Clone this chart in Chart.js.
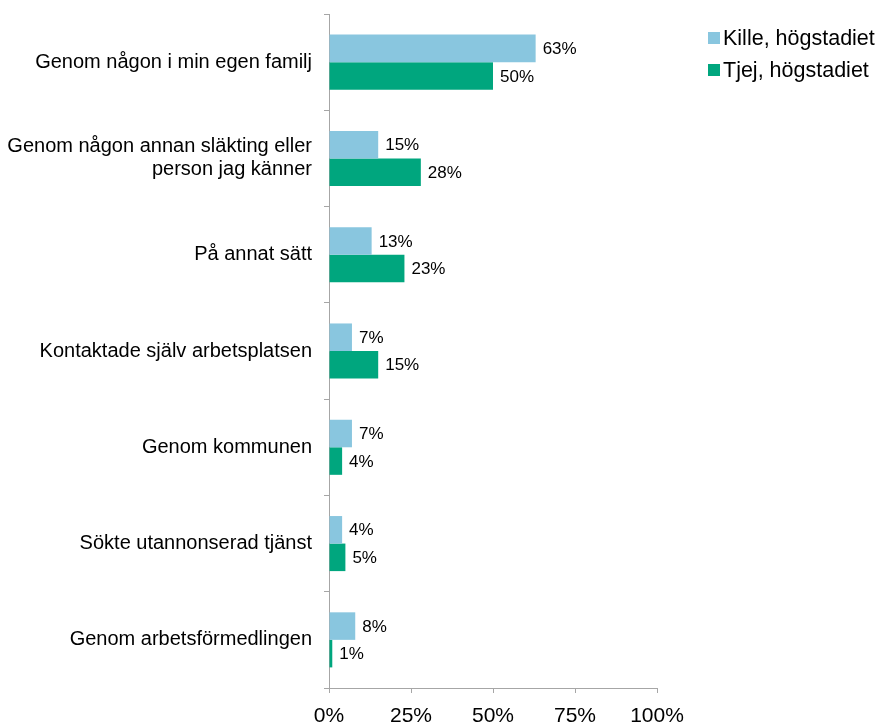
<!DOCTYPE html>
<html lang="sv">
  <head>
    <meta charset="UTF-8" />
    <title>Hur fick du jobbet?</title>
    <style>
      html, body { margin: 0; padding: 0; background: #fff; }
      #wrap { width: 883px; height: 724px; }
    </style>
  </head>
  <body>
    <div id="wrap">
      <canvas id="chart" width="883" height="724"></canvas>
    </div>
    <script src="https://cdn.jsdelivr.net/npm/chart.js"></script>
    <script>
      const categories = [
        "Genom någon i min egen familj",
        ["Genom någon annan släkting eller", "person jag känner"],
        "På annat sätt",
        "Kontaktade själv arbetsplatsen",
        "Genom kommunen",
        "Sökte utannonserad tjänst",
        "Genom arbetsförmedlingen",
      ];
      const kille = [63, 15, 13, 7, 7, 4, 8];
      const tjej = [50, 28, 23, 15, 4, 5, 1];
      const xTicks = [0, 25, 50, 75, 100];

      const FONT = "'Liberation Sans', Arial, sans-serif";
      const AXIS = "#a6a6a6";

      // value labels to the right of every bar
      const barLabels = {
        id: "barLabels",
        afterDatasetsDraw(chart) {
          const ctx = chart.ctx;
          ctx.save();
          ctx.font = "17px " + FONT;
          ctx.fillStyle = "#000";
          ctx.textAlign = "left";
          ctx.textBaseline = "middle";
          chart.data.datasets.forEach((ds, i) => {
            chart.getDatasetMeta(i).data.forEach((bar, j) => {
              ctx.fillText(ds.data[j] + "%", bar.x + 7, bar.y + 1);
            });
          });
          ctx.restore();
        },
      };

      // legend in the top right corner, square swatch close to the text
      const sideLegend = {
        id: "sideLegend",
        afterDraw(chart) {
          const ctx = chart.ctx;
          ctx.save();
          ctx.font = "21.5px " + FONT;
          ctx.textAlign = "left";
          ctx.textBaseline = "middle";
          chart.data.datasets.forEach((ds, i) => {
            const y = 38 + i * 32;
            ctx.fillStyle = ds.backgroundColor;
            ctx.fillRect(708, y - 6, 12, 12);
            ctx.fillStyle = "#000";
            ctx.fillText(ds.label, 723, y + 1);
          });
          ctx.restore();
        },
      };

      new Chart(document.getElementById("chart"), {
        type: "bar",
        data: {
          labels: categories,
          datasets: [
            {
              label: "Kille, högstadiet",
              data: kille,
              backgroundColor: "#89c6df",
              categoryPercentage: 0.572,
              barPercentage: 1,
            },
            {
              label: "Tjej, högstadiet",
              data: tjej,
              backgroundColor: "#00a67e",
              categoryPercentage: 0.572,
              barPercentage: 1,
            },
          ],
        },
        options: {
          indexAxis: "y",
          responsive: false,
          animation: false,
          layout: { padding: { top: 14, right: 226, bottom: 0, left: 0 } },
          plugins: {
            tooltip: { enabled: false },
            legend: { display: false },
          },
          scales: {
            x: {
              min: 0,
              max: 100,
              afterBuildTicks: (s) => { s.ticks = xTicks.map((v) => ({ value: v })); },
              afterFit: (s) => { s.height = 36; },
              grid: { drawOnChartArea: false, drawTicks: true, tickLength: 5, color: AXIS },
              border: { color: AXIS, width: 1 },
              ticks: {
                padding: 11,
                color: "#000",
                font: { size: 21, family: FONT },
                callback: (v) => v + "%",
                maxRotation: 0,
              },
            },
            y: {
              afterFit: (s) => {
                s.width = 329;
                s.paddingTop = 0;
                s.paddingBottom = 0;
              },
              grid: { drawOnChartArea: false, drawTicks: true, tickLength: 5, color: AXIS, offset: true },
              border: { color: AXIS, width: 1 },
              ticks: {
                padding: 12,
                color: "#000",
                font: { size: 20, family: FONT, lineHeight: 1.15 },
              },
            },
          },
        },
        plugins: [barLabels, sideLegend],
      });
    </script>
  </body>
</html>
